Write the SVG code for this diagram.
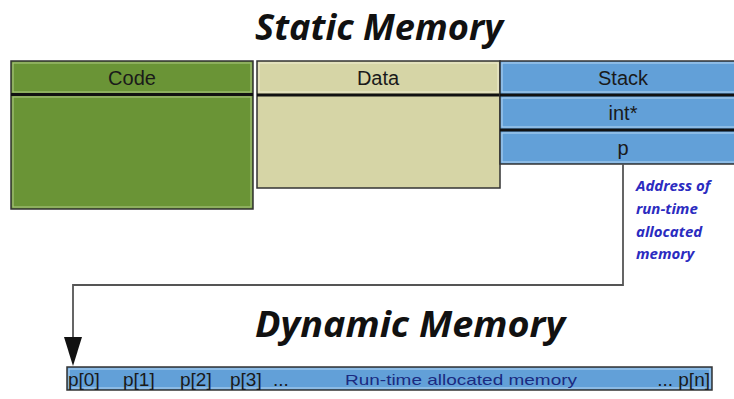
<svg xmlns="http://www.w3.org/2000/svg" width="734" height="399" viewBox="0 0 734 399">
<style>
.title{font-family:"Open Sans","Liberation Sans",sans-serif;font-weight:bold;font-style:italic;font-size:35px;fill:#111}
.hdr{font-family:"Liberation Sans",Arial,sans-serif;font-size:20px;fill:#1a1a1a;text-anchor:middle}
.frame{stroke:#333;stroke-width:1.5}
.inner{fill:none;stroke-width:1.2}
.sep{stroke:#111;stroke-width:3}
.note{font-family:"Open Sans","Liberation Sans",sans-serif;font-weight:bold;font-style:italic;font-size:15px;fill:#2b2bc0}
.bar{font-family:"Liberation Sans",Arial,sans-serif;font-size:19px;fill:#1a1a1a}
.barlbl{font-family:"Liberation Sans",Arial,sans-serif;font-size:15px;fill:#1a2a80}
.conn{fill:none;stroke:#555;stroke-width:1.8}
</style>
<defs>
<marker id="arr" markerWidth="18" markerHeight="28" refX="9" refY="28" orient="0" markerUnits="userSpaceOnUse" viewBox="0 0 18 28">
<path d="M0,0 L18,0 L9,28 z" fill="#111"/>
</marker>
</defs>
<rect width="734" height="399" fill="#fff"/>
<text class="title" x="255" y="40" textLength="248" lengthAdjust="spacingAndGlyphs">Static Memory</text>
<g id="code">
<rect class="frame" x="11" y="61" width="242" height="148" fill="#6a9436"/>
<rect class="inner" x="13" y="63" width="238" height="29" stroke="#a6c27a"/>
<rect class="inner" x="13" y="97" width="238" height="110" stroke="#a6c27a"/>
<line class="sep" x1="11" y1="94.5" x2="253" y2="94.5"/>
<text class="hdr" x="132" y="85">Code</text>
</g>
<g id="data">
<rect class="frame" x="257" y="61" width="243" height="127" fill="#d6d5a6"/>
<rect class="inner" x="259" y="63" width="239" height="29" stroke="#eceacc"/>
<line class="sep" x1="257" y1="95" x2="500" y2="95"/>
<text class="hdr" x="378" y="85">Data</text>
</g>
<g id="stack">
<rect class="frame" x="500" y="61" width="240" height="103" fill="#62a0d8"/>
<rect class="inner" x="502" y="63" width="240" height="29" stroke="#a8cdef"/>
<rect class="inner" x="502" y="98" width="240" height="29" stroke="#a8cdef"/>
<rect class="inner" x="502" y="133" width="240" height="29" stroke="#a8cdef"/>
<line class="sep" x1="500" y1="95" x2="734" y2="95"/>
<line class="sep" x1="500" y1="130" x2="734" y2="130"/>
<text class="hdr" x="623" y="85">Stack</text>
<text class="hdr" x="623" y="120">int*</text>
<text class="hdr" x="623" y="155">p</text>
</g>
<g id="note">
<text class="note" x="636" y="191">Address of</text>
<text class="note" x="636" y="214">run-time</text>
<text class="note" x="636" y="237">allocated</text>
<text class="note" x="636" y="259">memory</text>
</g>
<g id="connectors">
<path class="conn" d="M623,164 L623,285 L73,285 L73,338"/>
<path d="M64,337 L82,337 L73,366 z" fill="#111"/>
</g>
<text class="title" x="255" y="337" textLength="310" lengthAdjust="spacingAndGlyphs">Dynamic Memory</text>
<g id="dynamic">
<rect class="frame" x="67" y="367" width="645" height="23" fill="#62a0d8"/>
<rect class="inner" x="69" y="369" width="641" height="19" stroke="#a8cdef"/>
<text class="bar" x="68" y="386">p[0]</text>
<text class="bar" x="123" y="386">p[1]</text>
<text class="bar" x="180" y="386">p[2]</text>
<text class="bar" x="230" y="386">p[3]</text>
<text class="bar" x="273" y="386">...</text>
<text class="barlbl" x="345" y="385" textLength="232" lengthAdjust="spacingAndGlyphs">Run-time allocated memory</text>
<text class="bar" x="710" y="386" text-anchor="end">... p[n]</text>
</g>
</svg>
